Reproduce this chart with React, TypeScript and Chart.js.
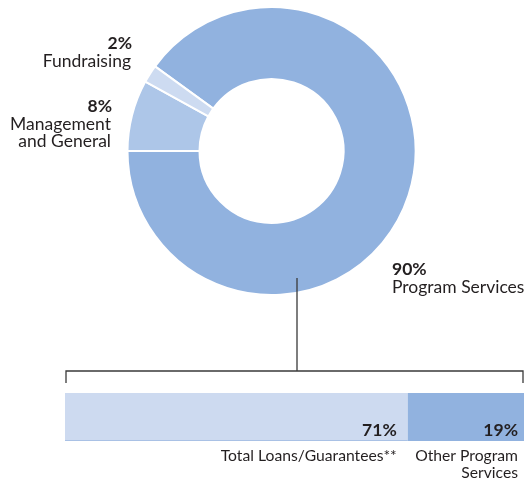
import React, { useEffect, useRef } from 'react';
import { Chart, registerables } from 'chart.js';

Chart.register(...registerables);

// ---- data ----
const segmentNames: string[][] = [['Program Services'], ['Management', 'and General'], ['Fundraising']];
const segmentValues = [90, 8, 2];
const segmentColors = ['#91B2DF', '#ADC6E8', '#CDDBF1'];

const barNames: string[][] = [['Total Loans/Guarantees**'], ['Other Program', 'Services']];
const barValues = [71, 19];
const barColors = ['#CDDAF0', '#91B2DF'];
const barTotal = 90;
// the reference bar is not drawn from zero; this axis start reproduces its split
const barAxisMin = 15;

const TEXT = '#231F20';
const FONT = 'Lato, "Open Sans", sans-serif';

// label anchor positions for the doughnut callouts (x, baseline of first line, alignment)
const segmentLabelPos = [
  { x: 392, y: 275, align: 'left' as CanvasTextAlign },
  { x: 112, y: 112, align: 'right' as CanvasTextAlign },
  { x: 132, y: 49, align: 'right' as CanvasTextAlign },
];

export default function App() {
  const donutRef = useRef<HTMLCanvasElement>(null);
  const barRef = useRef<HTMLCanvasElement>(null);

  useEffect(() => {
    const donutLabels = {
      id: 'donutLabels',
      afterDraw(chart: any) {
        const ctx = chart.ctx as CanvasRenderingContext2D;
        ctx.save();
        ctx.fillStyle = TEXT;
        segmentValues.forEach((v, i) => {
          const p = segmentLabelPos[i];
          ctx.textAlign = p.align;
          ctx.textBaseline = 'alphabetic';
          ctx.font = `bold 17.5px ${FONT}`;
          ctx.fillText(`${v}%`, p.x, p.y);
          ctx.font = `17.5px ${FONT}`;
          segmentNames[i].forEach((line, j) => {
            ctx.fillText(line, p.x - (p.align === 'right' ? 1 : 0), p.y + 18 + j * 17);
          });
        });
        ctx.restore();
      },
    };

    const donut = new Chart(donutRef.current!, {
      type: 'doughnut',
      data: {
        labels: segmentNames.map((l) => l.join(' ')),
        datasets: [
          {
            data: segmentValues,
            backgroundColor: segmentColors,
            borderColor: '#ffffff',
            borderWidth: 2,
            hoverOffset: 0,
          },
        ],
      },
      options: {
        responsive: false,
        animation: false,
        rotation: -54,
        cutout: '50%',
        layout: { padding: { left: 126, right: 111, top: 6, bottom: 186 } },
        plugins: { legend: { display: false }, tooltip: { enabled: false } },
      },
      plugins: [donutLabels],
    });

    const barDecor = {
      id: 'barDecor',
      afterDraw(chart: any) {
        const ctx = chart.ctx as CanvasRenderingContext2D;
        const area = chart.chartArea;
        ctx.save();
        // bracket
        ctx.strokeStyle = '#3a3a3a';
        ctx.lineWidth = 1.3;
        const by = area.top - 22;
        ctx.beginPath();
        ctx.moveTo(297, 278);
        ctx.lineTo(297, by);
        ctx.moveTo(area.left + 1, by + 12);
        ctx.lineTo(area.left + 1, by);
        ctx.lineTo(area.right - 1, by);
        ctx.lineTo(area.right - 1, by + 12);
        ctx.stroke();
        // labels
        ctx.fillStyle = TEXT;
        ctx.textAlign = 'right';
        ctx.textBaseline = 'alphabetic';
        const n = chart.data.datasets.length;
        chart.data.datasets.forEach((ds: any, i: number) => {
          const el = chart.getDatasetMeta(i).data[0];
          const rx = el.x - (i === n - 1 ? 6 : 11);
          ctx.font = `bold 17.5px ${FONT}`;
          ctx.fillText(`${barValues[i]}%`, rx, area.bottom - 5);
          ctx.font = `15.7px ${FONT}`;
          barNames[i].forEach((line, j) => {
            ctx.fillText(line, rx, area.bottom + 20 + j * 17);
          });
        });
        ctx.restore();
      },
    };

    const bar = new Chart(barRef.current!, {
      type: 'bar',
      data: {
        labels: ['Program Services'],
        datasets: barValues.map((v, i) => ({
          label: barNames[i].join(' '),
          data: [v],
          backgroundColor: barColors[i],
          borderColor: i === 0 ? '#9DB9E2' : barColors[i],
          borderWidth: i === 0 ? { top: 0, left: 0, right: 0, bottom: 1 } : 0,
          borderSkipped: false,
          barPercentage: 1,
          categoryPercentage: 1,
        })),
      },
      options: {
        indexAxis: 'y',
        responsive: false,
        animation: false,
        layout: { padding: { left: 65, right: 4, top: 393, bottom: 41 } },
        scales: {
          x: { stacked: true, display: false, min: barAxisMin, max: barTotal },
          y: { stacked: true, display: false },
        },
        plugins: { legend: { display: false }, tooltip: { enabled: false } },
      },
      plugins: [barDecor],
    });

    return () => {
      donut.destroy();
      bar.destroy();
    };
  }, []);

  const canvasStyle: React.CSSProperties = { position: 'absolute', left: 0, top: 0, width: 528, height: 482 };
  return (
    <div style={{ position: 'absolute', left: 0, top: 0, width: 528, height: 482, background: '#fff' }}>
      <canvas ref={donutRef} width={528} height={482} style={canvasStyle} />
      <canvas ref={barRef} width={528} height={482} style={canvasStyle} />
    </div>
  );
}
